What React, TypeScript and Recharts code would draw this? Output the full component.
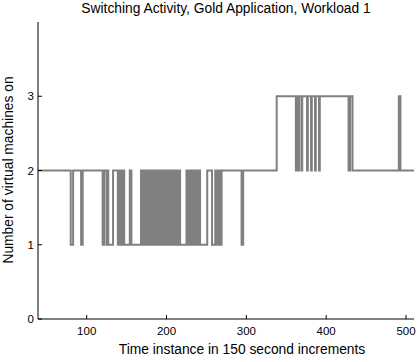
import React from "react";
import { LineChart, Line, XAxis, YAxis } from "recharts";

// Switching instants (time instance, 150 s increments) and number of VMs on after each switch
const switchTimes: number[] = [
  39, 80, 83, 93, 95, 120, 122, 125, 126, 127, 133, 139, 141, 143, 145, 147, 154, 156,
  168, 169, 170, 171, 172, 173, 174, 175, 176, 178, 179, 180, 181, 182, 183, 184, 185, 186, 187, 188, 189, 190, 191, 192,
  194, 195, 196, 197, 198, 199, 200, 201, 202,
  204, 205, 206, 207, 208, 209, 210, 211, 212, 213, 214, 215, 217,
  225, 226, 227, 228, 229, 230, 231, 233, 235, 236, 237, 238, 239, 240, 241, 242,
  251, 257,
  261, 262, 263, 264, 265, 266, 267, 268, 269,
  294, 296, 338,
  362, 363, 364, 366, 369, 370, 376, 377, 381, 382, 386, 387, 391, 392,
  428, 430, 433, 491, 493, 510,
];

const machinesOn: number[] = [
  2, 1, 2, 1, 2, 1, 2, 1, 2, 1, 2, 1, 2, 1, 2, 1, 2, 1,
  2, 1, 2, 1, 2, 1, 2, 1, 2, 1, 2, 1, 2, 1, 2, 1, 2, 1, 2, 1, 2, 1, 2, 1,
  2, 1, 2, 1, 2, 1, 2, 1, 2,
  1, 2, 1, 2, 1, 2, 1, 2, 1, 2, 1, 2, 1,
  2, 1, 2, 1, 2, 1, 2, 1, 2, 1, 2, 1, 2, 1, 2, 1,
  2, 1,
  2, 1, 2, 1, 2, 1, 2, 1, 2,
  1, 2, 3,
  2, 3, 2, 3, 2, 3, 2, 3, 2, 3, 2, 3, 2, 3,
  2, 3, 2, 3, 2, 2,
];

const xTicks: number[] = [100, 200, 300, 400, 500];
const yTicks: number[] = [0, 1, 2, 3];
const xDomain: [number, number] = [39, 510];
const yDomain: [number, number] = [0, 4];

const titleText = "Switching Activity, Gold Application, Workload 1";
const xLabelText = "Time instance in 150 second increments";
const yLabelText = "Number of virtual machines on";

const data = switchTimes.map((t, i) => ({ t, on: machinesOn[i] }));

const FONT = "'Liberation Sans', Arial, Helvetica, sans-serif";
const TICK = 4;

const BottomTick = (p: any) => (
  <g>
    <line x1={p.x} y1={p.y} x2={p.x} y2={p.y - TICK} stroke="#000" strokeWidth={1} />
    <text x={p.x} y={p.y + 16} textAnchor="middle" fontSize={11.5} fontFamily={FONT} fill="#000">
      {p.payload.value}
    </text>
  </g>
);

const TopTick = (p: any) => (
  <line x1={p.x} y1={p.y} x2={p.x} y2={p.y + TICK} stroke="#000" strokeWidth={1} />
);

const LeftTick = (p: any) => (
  <g>
    <line x1={p.x} y1={p.y} x2={p.x + TICK} y2={p.y} stroke="#000" strokeWidth={1} />
    <text x={p.x - 4} y={p.y + 4} textAnchor="end" fontSize={11.5} fontFamily={FONT} fill="#000">
      {p.payload.value}
    </text>
  </g>
);

const RightTick = (p: any) => (
  <line x1={p.x} y1={p.y} x2={p.x - TICK} y2={p.y} stroke="#000" strokeWidth={1} />
);

export default function App() {
  return (
    <div style={{ position: "absolute", left: 0, top: 0, width: 417, height: 362, background: "#fff" }}>
      <LineChart width={417} height={362} data={data} margin={{ top: 22, right: 3, bottom: 13, left: 0 }}>
        <XAxis
          dataKey="t"
          type="number"
          domain={xDomain}
          ticks={xTicks}
          allowDataOverflow
          interval={0}
          height={30}
          tickSize={0}
          tickMargin={0}
          tickLine={false}
          axisLine={{ stroke: "#000", strokeWidth: 1 }}
          tick={BottomTick}
        />
        <XAxis
          xAxisId="top"
          orientation="top"
          dataKey="t"
          type="number"
          domain={xDomain}
          ticks={xTicks}
          allowDataOverflow
          interval={0}
          height={0}
          tickSize={0}
          tickMargin={0}
          tickLine={false}
          axisLine={{ stroke: "#000", strokeWidth: 1 }}
          tick={TopTick}
        />
        <YAxis
          type="number"
          domain={yDomain}
          ticks={yTicks}
          allowDataOverflow
          interval={0}
          width={38}
          tickSize={0}
          tickMargin={0}
          tickLine={false}
          axisLine={{ stroke: "#000", strokeWidth: 1 }}
          tick={LeftTick}
        />
        <YAxis
          yAxisId="right"
          orientation="right"
          type="number"
          domain={yDomain}
          ticks={yTicks}
          allowDataOverflow
          interval={0}
          width={0}
          tickSize={0}
          tickMargin={0}
          tickLine={false}
          axisLine={{ stroke: "#000", strokeWidth: 1 }}
          tick={RightTick}
        />
        <Line
          type="stepAfter"
          dataKey="on"
          stroke="#808080"
          strokeWidth={2}
          dot={false}
          activeDot={false}
          isAnimationActive={false}
        />
      </LineChart>
      <svg width={417} height={362} style={{ position: "absolute", left: 0, top: 0, pointerEvents: "none" }}>
        <text x={226} y={13} textAnchor="middle" fontSize={13.8} fontFamily={FONT} fill="#000">
          {titleText}
        </text>
        <text x={242} y={354} textAnchor="middle" fontSize={13.8} fontFamily={FONT} fill="#000">
          {xLabelText}
        </text>
        <text
          x={0}
          y={0}
          transform="translate(13,170) rotate(-90)"
          textAnchor="middle"
          fontSize={13.8}
          fontFamily={FONT}
          fill="#000"
        >
          {yLabelText}
        </text>
      </svg>
    </div>
  );
}
